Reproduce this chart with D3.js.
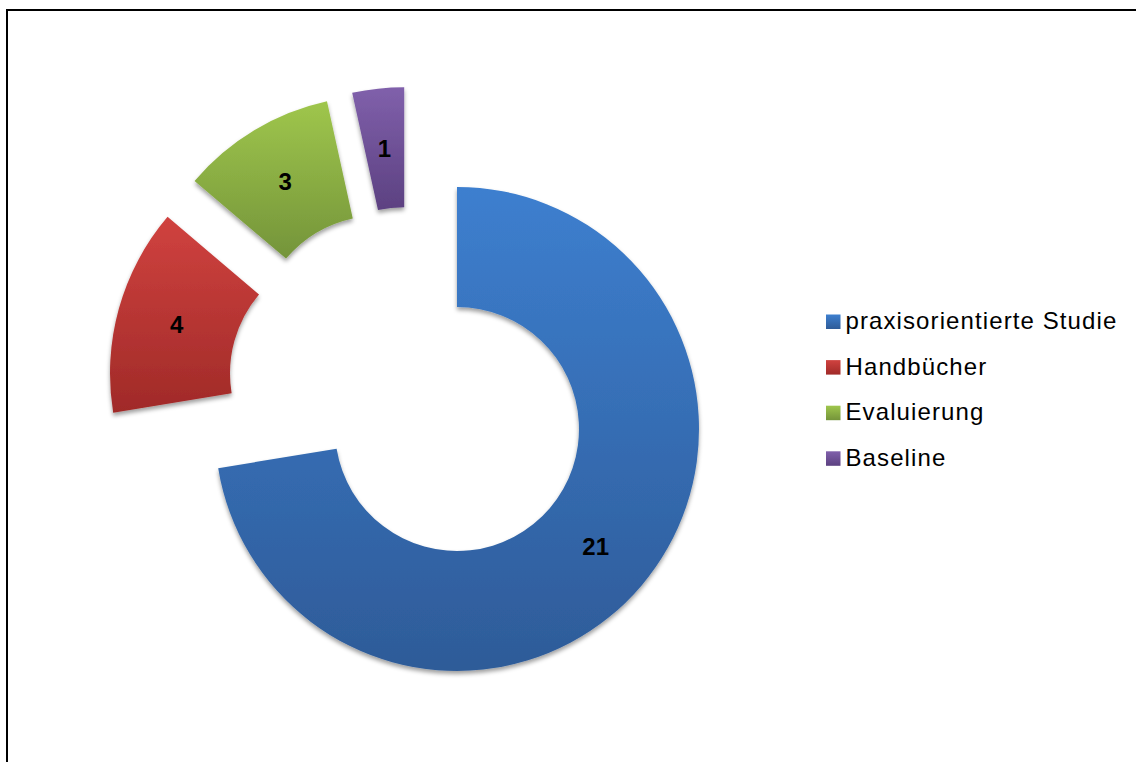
<!DOCTYPE html>
<html>
<head>
<meta charset="utf-8">
<script src="https://cdn.jsdelivr.net/npm/d3@7"></script>
<style>
  html, body { margin: 0; padding: 0; background: #fff; overflow: hidden; }
  svg { display: block; }
</style>
</head>
<body>
<svg id="chart" width="1136" height="762"></svg>
<script>
// Publication types and their counts
const categories = ["praxisorientierte Studie", "Handbücher", "Evaluierung", "Baseline"];
const counts = [21, 4, 3, 1];

// Gradient colours per category (top, bottom)
const colorTop = ["#3d7fcf", "#d0423f", "#9fc64c", "#8060ab"];
const colorBottom = ["#2e5b98", "#a02a28", "#74943a", "#5c4181"];

// Exploded slices are shifted away from the ring (pixel offsets)
const explodeOffset = [[0, 0], [-105, -55.5], [-78, -91.4], [-52.8, -99.8]];

const W = 1136, H = 762;
const cx = 457, cy = 429;
const rOuter = 242, rInner = 122;

const svg = d3.select("#chart");
const defs = svg.append("defs");

// Soft drop shadow under each segment
const shadow = defs.append("filter").attr("id", "shadow")
  .attr("x", "-20%").attr("y", "-20%").attr("width", "140%").attr("height", "140%");
shadow.append("feDropShadow")
  .attr("dx", 0).attr("dy", 3).attr("stdDeviation", 2.2)
  .attr("flood-color", "#000").attr("flood-opacity", 0.38);

categories.forEach((c, i) => {
  const g = defs.append("linearGradient").attr("id", "grad" + i)
    .attr("x1", 0).attr("y1", 0).attr("x2", 0).attr("y2", 1);
  g.append("stop").attr("offset", "0%").attr("stop-color", colorTop[i]);
  g.append("stop").attr("offset", "100%").attr("stop-color", colorBottom[i]);
});

svg.append("rect").attr("width", W).attr("height", H).attr("fill", "#fff");

// Chart frame (left and top edges visible)
svg.append("path")
  .attr("d", `M7,${H + 5} L7,10 L${W + 5},10`)
  .attr("fill", "none").attr("stroke", "#000").attr("stroke-width", 2);

const pie = d3.pie().sort(null).value(d => d.value).startAngle(0).endAngle(2 * Math.PI);
const arcs = pie(categories.map((c, i) => ({ name: c, value: counts[i], i })));

const arc = d3.arc().innerRadius(rInner).outerRadius(rOuter);
const labelArc = d3.arc().innerRadius((rInner + rOuter) / 2).outerRadius((rInner + rOuter) / 2);

const ring = svg.append("g").attr("transform", `translate(${cx},${cy})`);

const seg = ring.selectAll("g.seg").data(arcs).join("g")
  .attr("class", "seg")
  .attr("transform", d => `translate(${explodeOffset[d.data.i][0]},${explodeOffset[d.data.i][1]})`);

seg.append("path")
  .attr("d", arc)
  .attr("fill", d => `url(#grad${d.data.i})`)
  .attr("filter", "url(#shadow)");

const labelSize = 24;
seg.append("text")
  .attr("x", d => labelArc.centroid(d)[0])
  .attr("y", d => labelArc.centroid(d)[1] + labelSize * 0.36)
  .attr("text-anchor", "middle")
  .attr("font-family", "Arial, 'Liberation Sans', sans-serif")
  .attr("font-weight", "bold")
  .attr("font-size", labelSize)
  .attr("fill", "#000")
  .text(d => d.data.value);

// Legend
const legend = svg.append("g").attr("transform", "translate(826,329)");
const rowH = 45.6;
const item = legend.selectAll("g.item").data(categories).join("g")
  .attr("class", "item")
  .attr("transform", (d, i) => `translate(0,${i * rowH})`);

item.append("rect")
  .attr("x", 0).attr("y", -14.5).attr("width", 14.5).attr("height", 14.5)
  .attr("fill", (d, i) => `url(#grad${i})`);

item.append("text")
  .attr("x", 19.5).attr("y", 0)
  .attr("font-family", "Arial, 'Liberation Sans', sans-serif")
  .attr("font-size", 24)
  .attr("letter-spacing", 1.1)
  .attr("fill", "#000")
  .text(d => d);
</script>
</body>
</html>
